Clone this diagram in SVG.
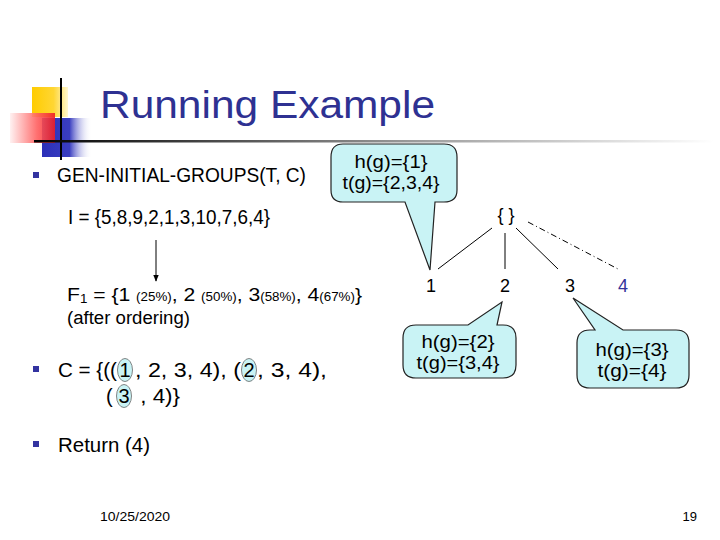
<svg xmlns="http://www.w3.org/2000/svg" width="720" height="540" viewBox="0 0 720 540">
<defs>
<linearGradient id="rule" x1="0" x2="1" y1="0" y2="0"><stop offset="0" stop-color="#000"/><stop offset="0.55" stop-color="#999"/><stop offset="1" stop-color="#fff"/></linearGradient>
<linearGradient id="red" x1="0" x2="1" y1="0" y2="0"><stop offset="0" stop-color="#fff0f0"/><stop offset="0.6" stop-color="#ff6060"/><stop offset="1" stop-color="#ee1c24"/></linearGradient>
<linearGradient id="blue" x1="0" x2="1" y1="0" y2="0"><stop offset="0" stop-color="#2b2fb8"/><stop offset="0.55" stop-color="#3a3ec0"/><stop offset="1" stop-color="#ffffff" stop-opacity="0"/></linearGradient>
<linearGradient id="yellow" x1="0" x2="1" y1="0" y2="0"><stop offset="0" stop-color="#ffcc00"/><stop offset="0.6" stop-color="#ffd633"/><stop offset="1" stop-color="#fff7d0"/></linearGradient>
<marker id="arr" viewBox="0 0 10 10" refX="9" refY="5" markerWidth="7" markerHeight="7" orient="auto"><path d="M0,1 L10,5 L0,9 z" fill="#000"/></marker>
</defs>
<style>
text{font-family:"Liberation Sans","DejaVu Sans",sans-serif;fill:#000}
.t{font-size:20px}
.c{font-size:18px;text-anchor:middle}
.n{font-size:18px;text-anchor:middle}
.s{font-size:12px}
.call{fill:#c9f3f5;stroke:#222;stroke-width:1.2}
.ln{stroke:#000;stroke-width:1;fill:none}
.bul{fill:#3333a0}
.ov{fill:#c9f3f5;stroke:#666;stroke-width:0.8}
</style>
<rect width="720" height="540" fill="#fff"/>
<g id="logo">
<rect x="32" y="87" width="36" height="30" fill="url(#yellow)"/>
<rect x="42" y="118" width="50" height="39" fill="url(#blue)"/>
<rect x="10" y="113" width="45" height="30" fill="url(#red)" opacity="0.9"/>
<line x1="61" y1="78" x2="61" y2="160" stroke="#000" stroke-width="2"/>
<rect x="34" y="140" width="680" height="2.5" fill="url(#rule)"/>
</g>
<g id="title"><text x="100" y="118" font-size="38" style="fill:#2e3192" textLength="335" lengthAdjust="spacingAndGlyphs">Running Example</text></g>
<g id="bullet1"><rect class="bul" x="33" y="172" width="6" height="6"/><text class="t" x="57" y="182" textLength="249" lengthAdjust="spacingAndGlyphs">GEN-INITIAL-GROUPS(T, C)</text></g>
<g id="callout1"><path class="call" d="M343,144 H444 Q457,144 457,157 V190 Q457,202 444,202 H435 L430,270 L405,202 H343 Q331,202 331,190 V157 Q331,144 343,144 Z"/><text class="c" x="391" y="168" textLength="73" lengthAdjust="spacingAndGlyphs">h(g)={1}</text><text class="c" x="391" y="189" textLength="97" lengthAdjust="spacingAndGlyphs">t(g)={2,3,4}</text></g>
<g id="I-line"><text class="t" x="68" y="224" font-size="19" textLength="202" lengthAdjust="spacingAndGlyphs">I = {5,8,9,2,1,3,10,7,6,4}</text></g>
<g id="root"><text x="506" y="221" font-size="18" text-anchor="middle">{ }</text></g>
<g id="connectors">
<line class="ln" x1="156" y1="240" x2="156" y2="281" marker-end="url(#arr)" stroke-width="1.5"/>
<line class="ln" x1="492" y1="228" x2="438" y2="269"/>
<line class="ln" x1="505" y1="233" x2="505" y2="269"/>
<line class="ln" x1="516" y1="228" x2="558" y2="269"/>
<line class="ln" x1="528" y1="222" x2="618" y2="269" stroke-dasharray="6,3,1,3"/>
</g>
<g id="n1"><text class="n" x="431" y="292">1</text></g>
<g id="n2"><text class="n" x="505" y="292">2</text></g>
<g id="n3"><text class="n" x="570" y="292">3</text></g>
<g id="n4"><text class="n" x="623" y="292" style="fill:#333399">4</text></g>
<g id="F1"><text x="67" y="301" font-size="19" textLength="295" lengthAdjust="spacingAndGlyphs">F<tspan font-size="12" dy="2">1</tspan><tspan dy="-2"> = {1 </tspan><tspan class="s">(25%)</tspan>, 2 <tspan class="s">(50%)</tspan>, 3<tspan class="s">(58%)</tspan>, 4<tspan class="s">(67%)</tspan>}</text><text x="67" y="324" font-size="18" textLength="123" lengthAdjust="spacingAndGlyphs">(after ordering)</text></g>
<g id="callout2"><path class="call" d="M416,325 H468 L502,302 L497,325 H503 Q516,325 516,338 V365 Q516,378 503,378 H416 Q403,378 403,365 V338 Q403,325 416,325 Z"/><text class="c" x="458" y="348" textLength="73" lengthAdjust="spacingAndGlyphs">h(g)={2}</text><text class="c" x="458" y="369" textLength="83" lengthAdjust="spacingAndGlyphs">t(g)={3,4}</text></g>
<g id="callout3"><path class="call" d="M590,330 H595 L573,298 L623,330 H676 Q689,330 689,343 V375 Q689,388 676,388 H590 Q577,388 577,375 V343 Q577,330 590,330 Z"/><text class="c" x="632" y="356" textLength="73" lengthAdjust="spacingAndGlyphs">h(g)={3}</text><text class="c" x="632" y="377" textLength="69" lengthAdjust="spacingAndGlyphs">t(g)={4}</text></g>
<g id="bullet2"><rect class="bul" x="33" y="366" width="6" height="6"/>
<ellipse class="ov" cx="125" cy="370" rx="7.5" ry="11.5"/><ellipse class="ov" cx="249" cy="370" rx="7.5" ry="11.5"/><ellipse class="ov" cx="124" cy="396" rx="7.5" ry="11.5"/>
<text class="t" x="58" y="377" textLength="59" lengthAdjust="spacingAndGlyphs">C = {((</text>
<text class="t" x="125" y="377" text-anchor="middle">1</text>
<text class="t" x="135" y="377" textLength="106" lengthAdjust="spacingAndGlyphs" xml:space="preserve">, 2, 3, 4), (</text>
<text class="t" x="249" y="377" text-anchor="middle">2</text>
<text class="t" x="257" y="377" textLength="70" lengthAdjust="spacingAndGlyphs">, 3, 4),</text>
<text class="t" x="106" y="403">(</text>
<text class="t" x="124" y="403" text-anchor="middle">3</text>
<text class="t" x="134" y="403" textLength="46" lengthAdjust="spacingAndGlyphs" xml:space="preserve"> , 4)}</text></g>
<g id="bullet3"><rect class="bul" x="33" y="441" width="6" height="6"/><text class="t" x="58" y="452" textLength="92" lengthAdjust="spacingAndGlyphs">Return (4)</text></g>
<g id="footer"><text x="100" y="521" font-size="13" textLength="70" lengthAdjust="spacingAndGlyphs">10/25/2020</text><text x="697" y="521" font-size="13" text-anchor="end">19</text></g>
</svg>
